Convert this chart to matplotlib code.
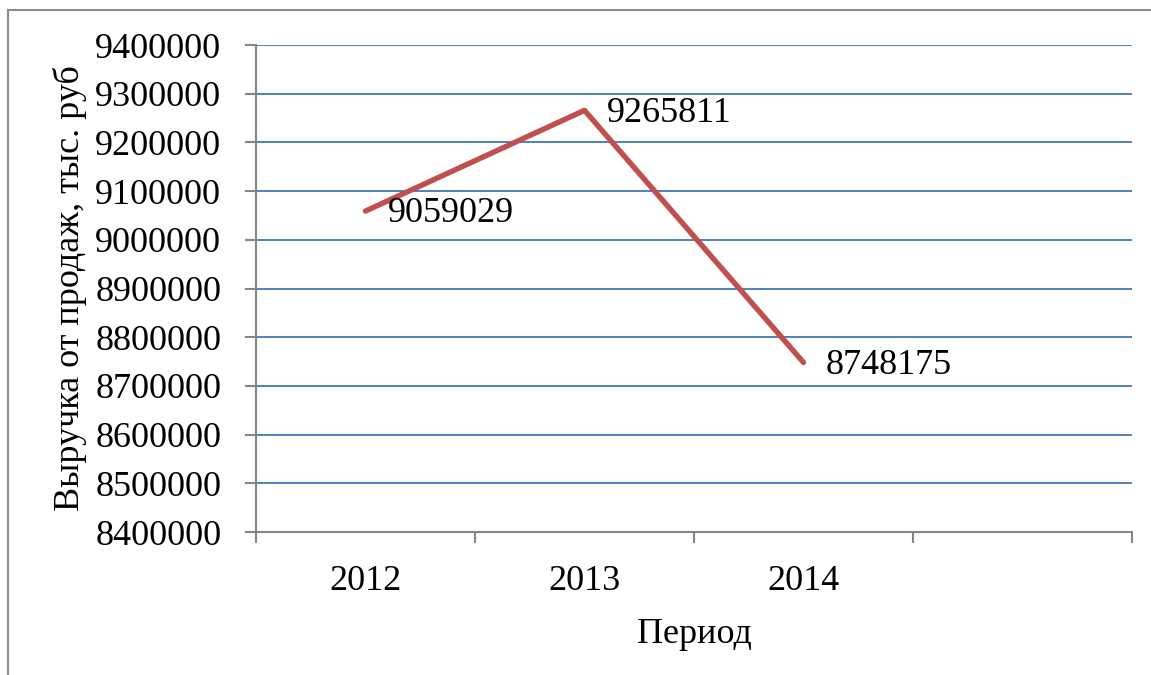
import numpy as np
import matplotlib.pyplot as plt
from matplotlib.lines import Line2D

# данные: выручка по годам
periods = ['2012', '2013', '2014', '']
revenue = [9059029, 9265811, 8748175]
y_ticks = list(range(8400000, 9400001, 100000))

plt.rcParams['font.family'] = ['Liberation Serif', 'DejaVu Serif']

fig = plt.figure(figsize=(11.51, 6.75), dpi=100)
ax = fig.add_axes([256/1151, 143/675, 876/1151, 487/675])

axis_grey = '#868686'
grid_blue = '#4F81BD'
line_red = '#C0504D'

x = np.arange(len(revenue))
ax.plot(x, revenue, color=line_red, linewidth=3.9, solid_capstyle='round', zorder=3)

for xi, v in zip(x, revenue):
    ax.annotate(str(v), xy=(xi, v), xytext=(16, -2), textcoords='offset points',
                ha='left', va='center', fontsize=26, zorder=4)

ax.set_xlim(-0.5, len(periods) - 0.5)
ax.set_ylim(y_ticks[0], y_ticks[-1])

ax.set_yticks(y_ticks)
ax.set_yticklabels([str(t) for t in y_ticks])
ax.yaxis.grid(True, color=grid_blue, linewidth=1.4)
ax.set_axisbelow(True)

# подписи категорий по центрам, засечки на границах
ax.set_xticks(np.arange(len(periods)))
ax.set_xticklabels(periods)
ax.set_xticks(np.arange(len(periods) + 1) - 0.5, minor=True)
ax.tick_params(axis='x', which='major', length=0, pad=24, labelsize=26)
ax.tick_params(axis='x', which='minor', length=8, width=1.5, color=axis_grey, direction='out')
ax.tick_params(axis='y', length=8, width=1.5, color=axis_grey, direction='out', pad=17, labelsize=26)

for s in ['top', 'right']:
    ax.spines[s].set_visible(False)
for s in ['left', 'bottom']:
    ax.spines[s].set_color(axis_grey)
    ax.spines[s].set_linewidth(1.5)

ax.set_xlabel('Период', fontsize=26, labelpad=14)
ax.set_ylabel('Выручка от продаж, тыс. руб', fontsize=26, labelpad=6)

# рамка диаграммы
fig.add_artist(Line2D([8/1151, 8/1151], [0, 1 - 10/675], transform=fig.transFigure,
                      color='#8c8c8c', linewidth=1.5))
fig.add_artist(Line2D([8/1151, 1], [1 - 10/675, 1 - 10/675], transform=fig.transFigure,
                      color='#8c8c8c', linewidth=1.5))

fig.savefig('out.png', dpi=100, facecolor='white')
